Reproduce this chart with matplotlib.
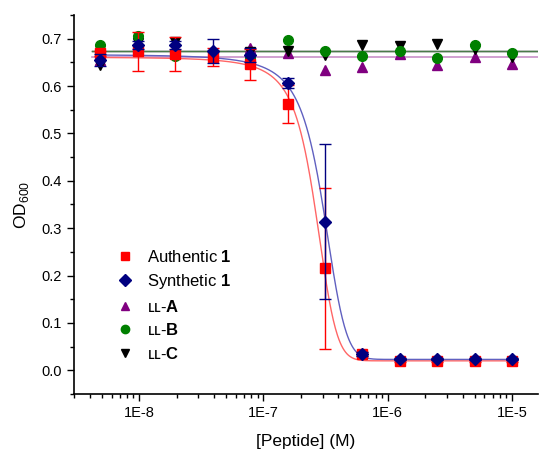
import numpy as np
import matplotlib
matplotlib.use("Agg")
import matplotlib.pyplot as plt
from matplotlib.ticker import LogLocator, FixedLocator, NullFormatter, FuncFormatter

plt.rcParams['font.family'] = ['Liberation Sans', 'DejaVu Sans']
plt.rcParams['mathtext.fontset'] = 'custom'
plt.rcParams['mathtext.rm'] = 'Liberation Sans'
plt.rcParams['mathtext.bf'] = 'Liberation Sans:bold'

# ---- data ----
conc = [4.88e-9, 9.77e-9, 1.95e-8, 3.91e-8, 7.81e-8, 1.5625e-7,
        3.125e-7, 6.25e-7, 1.25e-6, 2.5e-6, 5e-6, 1e-5]
authentic = [0.669, 0.673, 0.667, 0.662, 0.646, 0.562, 0.215, 0.035, 0.020, 0.020, 0.020, 0.020]
authentic_err = [0.005, 0.041, 0.036, 0.019, 0.033, 0.040, 0.170, 0.004, 0.002, 0.002, 0.002, 0.002]
synthetic = [0.655, 0.687, 0.687, 0.674, 0.666, 0.606, 0.314, 0.035, 0.023, 0.023, 0.023, 0.023]
synthetic_err = [0.013, 0.008, 0.008, 0.025, 0.015, 0.011, 0.163, 0.004, 0.002, 0.002, 0.002, 0.002]
ll_a = [0.655, 0.680, 0.680, 0.670, 0.680, 0.670, 0.634, 0.641, 0.667, 0.645, 0.661, 0.646]
ll_b = [0.687, 0.706, 0.664, 0.665, 0.660, 0.698, 0.673, 0.664, 0.673, 0.659, 0.687, 0.669]
ll_c = [0.645, 0.690, 0.694, 0.660, 0.672, 0.675, 0.666, 0.687, 0.684, 0.689, 0.678, 0.661]

# Boltzmann fit parameters (top, bottom, x0, dx)
fit_auth = (0.667, 0.020, 2.60e-7, 5.6e-8)
fit_syn = (0.675, 0.023, 3.00e-7, 7.0e-8)
flat_a = 0.661
flat_b = 0.675
flat_c = 0.673

xticks = [1e-8, 1e-7, 1e-6, 1e-5]
xtick_labels = ['1E-8', '1E-7', '1E-6', '1E-5']
yticks = [0.0, 0.1, 0.2, 0.3, 0.4, 0.5, 0.6, 0.7]

def boltz(x, p):
    a1, a2, x0, dx = p
    return a2 + (a1 - a2) / (1 + np.exp((x - x0) / dx))

fig = plt.figure(figsize=(5.39, 4.54), dpi=100)
ax = fig.add_axes([74/539, 60/454, 464/539, 379/454])
ax.set_xscale('log')
ax.set_xlim(2.99e-9, 1.62e-5)
ax.set_ylim(-0.05, 0.75)

xc = np.logspace(np.log10(conc[0]), np.log10(conc[-1]), 600)
xf = np.array([4.2e-9, 2e-5])
ax.plot(xf, [flat_a]*2, color='#c890c8', lw=1.2, zorder=1)
ax.plot(xf, [flat_c]*2, color='#303030', lw=1.0, zorder=1)
ax.plot(xf, [flat_b]*2, color='#4a7a4a', lw=1.0, zorder=1)
ax.plot(xc, boltz(xc, fit_auth), color='#ff6666', lw=1.0, zorder=1)
ax.plot(xc, boltz(xc, fit_syn), color='#6060c0', lw=1.0, zorder=1)

ms = 7
ax.plot(conc, ll_a, '^', color='#800080', ms=ms, ls='none', zorder=3, label='ʟʟ-$\\mathbf{A}$')
ax.plot(conc, ll_c, 'v', color='black', ms=ms, ls='none', zorder=3, label='ʟʟ-$\\mathbf{C}$')
ax.plot(conc, ll_b, 'o', color='#008000', ms=ms, ls='none', zorder=3, label='ʟʟ-$\\mathbf{B}$')
ax.errorbar(conc, authentic, yerr=authentic_err, fmt='s', color='red', ms=6.5,
            capsize=4, elinewidth=1, capthick=1, zorder=4, label='Authentic $\\mathbf{1}$')
ax.errorbar(conc, synthetic, yerr=synthetic_err, fmt='D', color='#000080', ms=6.5,
            capsize=4, elinewidth=1, capthick=1, zorder=5, label='Synthetic $\\mathbf{1}$')

# legend order
h, l = ax.get_legend_handles_labels()
order = [l.index('Authentic $\\mathbf{1}$'), l.index('Synthetic $\\mathbf{1}$'),
         l.index('ʟʟ-$\\mathbf{A}$'), l.index('ʟʟ-$\\mathbf{B}$'), l.index('ʟʟ-$\\mathbf{C}$')]
hh = []
from matplotlib.lines import Line2D
mk = {'Authentic $\\mathbf{1}$': ('s', 'red'), 'Synthetic $\\mathbf{1}$': ('D', '#000080'),
      'ʟʟ-$\\mathbf{A}$': ('^', '#800080'), 'ʟʟ-$\\mathbf{B}$': ('o', '#008000'),
      'ʟʟ-$\\mathbf{C}$': ('v', 'black')}
labels = [l[i] for i in order]
for lab in labels:
    m, c = mk[lab]
    hh.append(Line2D([], [], marker=m, color=c, ls='none', ms=6))
leg = fig.legend(hh, labels, loc='upper left', bbox_to_anchor=(110/539, 1 - 242/454),
                 frameon=False, fontsize=12, handlelength=1.0, handletextpad=0.8,
                 labelspacing=0.45, borderaxespad=0)

ax.xaxis.set_major_locator(FixedLocator(xticks))
ax.set_xticklabels(xtick_labels)
ax.xaxis.set_minor_locator(LogLocator(base=10, subs=np.arange(2, 10)))
ax.xaxis.set_minor_formatter(NullFormatter())
ax.set_yticks(yticks)
ax.set_yticklabels(['%.1f' % v for v in yticks])
ax.yaxis.set_minor_locator(FixedLocator(np.arange(-0.05, 0.76, 0.05)))

for s in ['top', 'right']:
    ax.spines[s].set_visible(False)
ax.spines['left'].set_linewidth(1.2)
ax.spines['bottom'].set_linewidth(1.2)
ax.tick_params(which='major', direction='out', length=5, width=1, labelsize=10.5)
ax.tick_params(which='minor', direction='out', length=3, width=1)

ax.set_xlabel('[Peptide] (M)', fontsize=12.5, labelpad=10)
ax.set_ylabel('OD$_{600}$', fontsize=12.5, labelpad=8)

fig.savefig('out.png', dpi=100)
